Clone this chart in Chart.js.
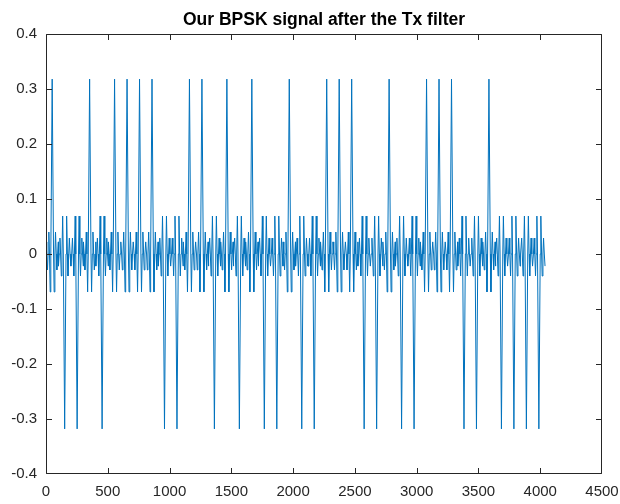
<!DOCTYPE html>
<html>
<head>
<meta charset="utf-8">
<title>Our BPSK signal after the Tx filter</title>
<script src="https://cdn.jsdelivr.net/npm/chart.js@4/dist/chart.umd.min.js"></script>
<style>
  html, body { margin: 0; padding: 0; background: #ffffff; }
  #wrap { width: 620px; height: 504px; position: relative; }
</style>
</head>
<body>
<div id="wrap"><canvas id="c" width="620" height="504"></canvas></div>
<script>
// BPSK symbols, one per slot of the filtered stream
const symbols = [
   1, -1, -1,  1, -1,  1,  1,  1,  1, -1,
  -1,  1,  1, -1,  1, -1,  1, -1, -1,  1,
  -1, -1,  1,  1,  1, -1, -1,  1, -1, -1,
   1,  1,  1, -1, -1,  1, -1, -1, -1, -1
];
const samplesPerSymbol = 101;
const pulseCenter = 50;

// Tx filter pulse (one half, mirrored about the centre): offset in samples, amplitude
const pulseOffsets = [0,     11, 16,     22, 27,    33, 38,     44, 50];
const pulseValues  = [0.318, 0,  -0.069, 0,  0.040, 0,  -0.029, 0,  0.022];

// Axis ticks
const xTickValues = [0, 500, 1000, 1500, 2000, 2500, 3000, 3500, 4000, 4500];
const yTickValues = [-0.4, -0.3, -0.2, -0.1, 0, 0.1, 0.2, 0.3, 0.4];
const yTickLabels = ['-0.4', '-0.3', '-0.2', '-0.1', '0', '0.1', '0.2', '0.3', '0.4'];

const titleText = 'Our BPSK signal after the Tx filter';
const FONT = "'Liberation Sans', Arial, Helvetica, sans-serif";
const AXIS_COLOR = '#262626';
const LINE_COLOR = '#0072BD';

// full (two-sided) pulse offsets / values
const fullOffsets = [], fullValues = [];
for (let i = pulseOffsets.length - 1; i > 0; i--) { fullOffsets.push(-pulseOffsets[i]); fullValues.push(pulseValues[i]); }
for (let i = 0; i < pulseOffsets.length; i++) { fullOffsets.push(pulseOffsets[i]); fullValues.push(pulseValues[i]); }

// filtered stream: each symbol scales one copy of the pulse in its own slot
const signalPoints = [];
symbols.forEach((s, k) => {
  const centre = k * samplesPerSymbol + pulseCenter;
  fullOffsets.forEach((off, j) => {
    signalPoints.push({ x: centre + off, y: s * fullValues[j] });
  });
});

// box around the axes with inward ticks on all four sides, plus the title
const framePlugin = {
  id: 'frame',
  afterDraw(chart) {
    const { ctx, chartArea: a, scales } = chart;
    const L = Math.round(a.left) + 0.5, R = Math.round(a.right) - 0.5;
    const T = Math.round(a.top) + 0.5, B = Math.round(a.bottom) - 0.5;
    const tl = 5.5;
    ctx.save();
    ctx.strokeStyle = AXIS_COLOR;
    ctx.lineWidth = 1;
    ctx.beginPath();
    ctx.rect(L, T, R - L, B - T);
    xTickValues.forEach(v => {
      const px = Math.min(R, Math.max(L, Math.round(scales.x.getPixelForValue(v)) + 0.5));
      ctx.moveTo(px, B); ctx.lineTo(px, B - tl);
      ctx.moveTo(px, T); ctx.lineTo(px, T + tl);
    });
    yTickValues.forEach(v => {
      const py = Math.min(B, Math.max(T, Math.round(scales.y.getPixelForValue(v)) + 0.5));
      ctx.moveTo(L, py); ctx.lineTo(L + tl, py);
      ctx.moveTo(R, py); ctx.lineTo(R - tl, py);
    });
    ctx.stroke();

    ctx.fillStyle = '#000000';
    ctx.font = 'bold 17.5px ' + FONT;
    ctx.textAlign = 'center';
    ctx.textBaseline = 'alphabetic';
    ctx.fillText(titleText, (a.left + a.right) / 2, 25);
    ctx.restore();
  }
};

new Chart(document.getElementById('c').getContext('2d'), {
  type: 'line',
  data: {
    datasets: [{
      data: signalPoints,
      borderColor: LINE_COLOR,
      borderWidth: 1,
      pointRadius: 0,
      tension: 0,
      fill: false
    }]
  },
  options: {
    responsive: false,
    animation: false,
    events: [],
    layout: { padding: { left: 0, right: 18, top: 34, bottom: 0 } },
    plugins: {
      legend: { display: false },
      tooltip: { enabled: false },
      title: { display: false }
    },
    scales: {
      x: {
        type: 'linear',
        min: 0,
        max: 4500,
        afterBuildTicks: s => { s.ticks = xTickValues.map(v => ({ value: v })); },
        afterFit: s => { s.height = 30; s.paddingLeft = 0; s.paddingRight = 0; },
        grid: { display: false, drawTicks: false },
        border: { display: false },
        ticks: {
          padding: 9,
          color: AXIS_COLOR,
          font: { family: FONT, size: 15 },
          maxRotation: 0,
          autoSkip: false,
          callback: v => String(v)
        }
      },
      y: {
        type: 'linear',
        min: -0.4,
        max: 0.4,
        afterBuildTicks: s => { s.ticks = yTickValues.map(v => ({ value: v })); },
        afterFit: s => { s.width = 46; s.paddingTop = 0; s.paddingBottom = 0; },
        grid: { display: false, drawTicks: false },
        border: { display: false },
        ticks: {
          padding: 9,
          color: AXIS_COLOR,
          font: { family: FONT, size: 15 },
          autoSkip: false,
          callback: (v, i) => yTickLabels[i]
        }
      }
    }
  },
  plugins: [framePlugin]
});
</script>
</body>
</html>
